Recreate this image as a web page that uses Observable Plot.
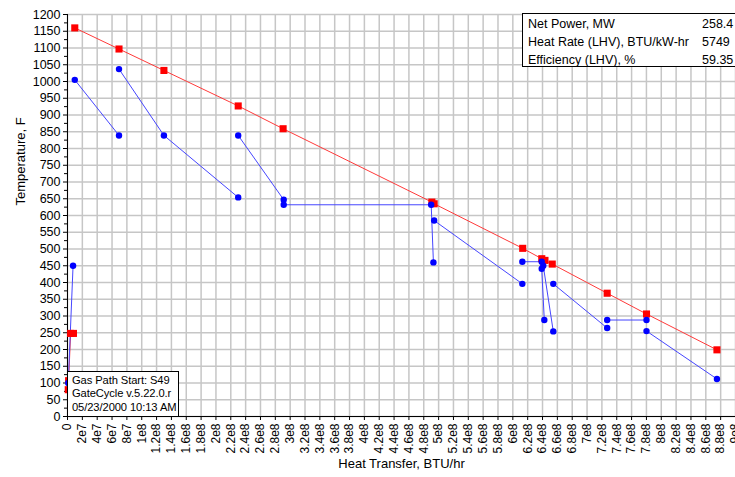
<!DOCTYPE html>
<html><head><meta charset="utf-8">
<script src="https://cdn.jsdelivr.net/npm/d3@7"></script>
<script src="https://cdn.jsdelivr.net/npm/@observablehq/plot@0.6"></script>
<style>
body{margin:0;background:#fff}
#wrap{position:relative;width:735px;height:477px;overflow:hidden;font-family:"Liberation Sans",Arial,sans-serif;color:#000}
.box{position:absolute;background:#fff;border:1px solid #000;font-size:12.5px;box-sizing:border-box}
#info{left:522px;top:13px;width:230px;height:54px;padding:2px 0 0 5px}
#info .row{display:flex;height:18px;line-height:17px}
#info .lab{width:174px;white-space:nowrap}
#stamp{left:67px;top:371px;width:112px;height:46px;padding:2px 0 0 4px;font-size:11.2px;line-height:13.3px;white-space:nowrap;letter-spacing:-0.1px}
</style></head>
<body><div id="wrap"></div>
<script>
// Gas path (red)
const gasHighX = [9.8e6, 6.94e7, 1.299e8, 2.30e8, 2.905e8, 4.909e8, 4.94e8, 6.133e8, 6.39e8, 6.433e8, 6.531e8, 7.271e8, 7.801e8, 8.75e8];
const gasHighY = [1160, 1097, 1033, 927, 859, 640, 635, 502, 471, 466, 455, 368, 306, 199];
const gasLowX = [1.0e6, 1.5e6, 4.2e6, 8.0e6];
const gasLowY = [80, 107, 248, 248];
// Water / steam side (blue), one segment id per point
const waterSeg = [0,0, 1,1, 2,2,2, 3,3,3,3,3, 4,4, 5,5,5,5, 6,6, 7,7, 8,8, 9,9];
const waterX = [1.0e6, 7.5e6,
  9.8e6, 6.94e7,
  6.94e7, 1.299e8, 2.30e8,
  2.30e8, 2.913e8, 2.913e8, 4.90e8, 4.93e8,
  4.94e8, 6.128e8,
  6.128e8, 6.389e8, 6.389e8, 6.424e8,
  6.41e8, 6.545e8,
  6.545e8, 7.271e8,
  7.271e8, 7.801e8,
  7.801e8, 8.75e8];
const waterY = [100, 450,
  1005, 839,
  1037, 839, 654,
  839, 647, 632, 632, 460,
  585, 396,
  462, 462, 441, 288,
  450, 254,
  396, 264,
  288, 288,
  255, 112];
const infoLabels = ["Net Power, MW", "Heat Rate (LHV), BTU/kW-hr", "Efficiency (LHV), %"];
const infoValues = ["258.4", "5749", "59.35"];
const stampLines = ["Gas Path Start: S49", "GateCycle v.5.22.0.r", "05/23/2000 10:13 AM"];
const xLabel = "Heat Transfer, BTU/hr";
const yLabel = "Temperature, F";

const gasHigh = gasHighX.map((x, i) => ({x, y: gasHighY[i]}));
const gasLow = gasLowX.map((x, i) => ({x, y: gasLowY[i]}));
const water = waterX.map((x, i) => ({x, y: waterY[i], s: waterSeg[i]}));
const xTicks = d3.range(0, 9e8 + 1, 2e7);
const yTicks = d3.range(0, 1201, 50);
const fmtX = v => v === 0 ? "0" : v.toExponential().replace("+", "");

const chart = Plot.plot({
  width: 735, height: 477,
  marginLeft: 67, marginRight: 0, marginTop: 14, marginBottom: 61,
  style: {fontFamily: "'Liberation Sans', Arial, sans-serif", fontSize: "12px", background: "#fff", color: "#000"},
  x: {domain: [0, 9e8]},
  y: {domain: [0, 1200]},
  marks: [
    Plot.gridX(xTicks, {stroke: "#c6c6c6", strokeOpacity: 1, strokeWidth: 1.5}),
    Plot.gridY(yTicks, {stroke: "#c6c6c6", strokeOpacity: 1, strokeWidth: 1.5}),
    Plot.axisX({ticks: xTicks, tickFormat: fmtX, tickRotate: -90, tickSize: 4, tickPadding: 3, label: null, fontSize: 12}),
    Plot.axisY({ticks: yTicks, tickFormat: d => String(d), tickSize: 4, tickPadding: 3, label: null, fontSize: 12.5}),
    Plot.axisY({ticks: d3.range(25, 1200, 50), tickSize: 3, tickFormat: () => "", label: null}),
    Plot.ruleX([0], {stroke: "#000"}),
    Plot.ruleY([0], {stroke: "#000"}),
    Plot.line(gasHigh, {x: "x", y: "y", stroke: "#ff3a3a", strokeWidth: 1}),
    Plot.line(gasLow, {x: "x", y: "y", stroke: "#ff3a3a", strokeWidth: 1}),
    Plot.line(water, {x: "x", y: "y", z: "s", stroke: "#4646ff", strokeWidth: 1}),
    Plot.dot(gasHigh, {x: "x", y: "y", symbol: "square", r: 4, fill: "#ff0000", stroke: null}),
    Plot.dot(gasLow, {x: "x", y: "y", symbol: "square", r: 4, fill: "#ff0000", stroke: null}),
    Plot.dot(water, {x: "x", y: "y", r: 3.2, fill: "#0000ff", stroke: null}),
    Plot.text([xLabel], {frameAnchor: "bottom", dy: 51, fontSize: 13}),
    Plot.text([yLabel], {frameAnchor: "left", dx: -47, dy: -10, rotate: -90, fontSize: 13})
  ]
});
const wrap = document.getElementById("wrap");
wrap.appendChild(chart);

const info = document.createElement("div");
info.className = "box"; info.id = "info";
infoLabels.forEach((l, i) => {
  const r = document.createElement("div"); r.className = "row";
  const a = document.createElement("span"); a.className = "lab"; a.textContent = l;
  const b = document.createElement("span"); b.textContent = infoValues[i];
  r.appendChild(a); r.appendChild(b); info.appendChild(r);
});
wrap.appendChild(info);

const stamp = document.createElement("div");
stamp.className = "box"; stamp.id = "stamp";
stampLines.forEach(t => { const d = document.createElement("div"); d.textContent = t; stamp.appendChild(d); });
wrap.appendChild(stamp);
</script>
</body></html>
